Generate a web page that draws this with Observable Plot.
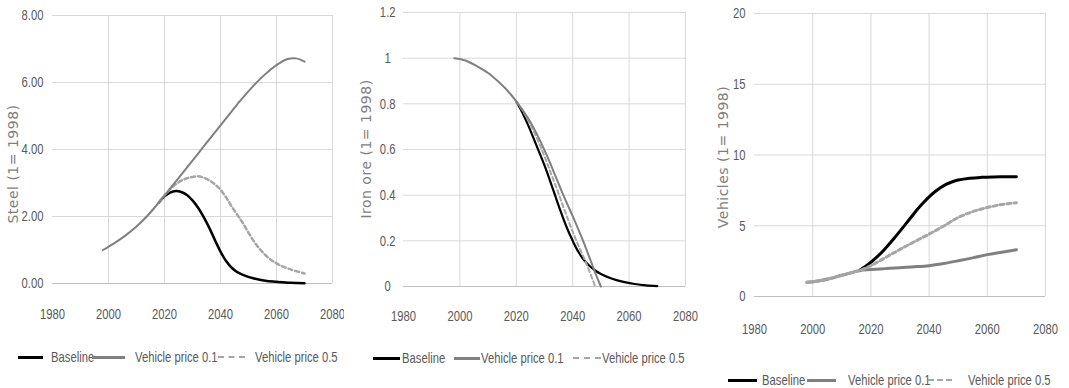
<!DOCTYPE html>
<html><head><meta charset="utf-8">
<script src="https://cdn.jsdelivr.net/npm/d3@7"></script>
<script src="https://cdn.jsdelivr.net/npm/@observablehq/plot@0.6"></script>
<style>
body{margin:0;background:#fff;width:1069px;height:388px;overflow:hidden;position:relative;font-family:"Liberation Sans",Arial,sans-serif;}
.panel{position:absolute;top:0;}
.ylab{position:absolute;font-family:"DejaVu Sans",sans-serif;font-size:14px;letter-spacing:0.5px;color:#7f7f7f;transform:translate(-50%,-50%) rotate(-90deg);white-space:nowrap;}
.legtxt{position:absolute;font-size:15px;line-height:16px;color:#595959;white-space:nowrap;transform:scaleX(0.75);transform-origin:0 50%;}
.sw{position:absolute;height:0;}
</style>
</head><body>
<script>
// ---------- data ----------
const xTicks = [1980, 2000, 2020, 2040, 2060, 2080];
const xGrid = [2000, 2020, 2040, 2060, 2080];
const seriesNames = ["Baseline", "Vehicle price 0.1", "Vehicle price 0.5"];

// Panel 1: Steel
const steelYTicks = [0, 2, 4, 6, 8];
const steelVP01Years = [1998,2002,2006,2010,2014,2018,2020,2022,2024,2026,2028,2030,2032,2034,2036,2038,2040,2042,2044,2046,2048,2052,2056,2060,2064,2067,2070];
const steelVP01 = [1.0,1.2,1.43,1.7,2.03,2.42,2.62,2.83,3.04,3.25,3.46,3.67,3.88,4.09,4.3,4.51,4.72,4.93,5.14,5.35,5.55,5.92,6.25,6.52,6.7,6.72,6.62];
const steelBaseYears = [2018,2020,2022,2024,2026,2028,2030,2032,2034,2036,2038,2040,2042,2044,2046,2048,2052,2056,2060,2065,2070];
const steelBaseline = [2.42,2.6,2.71,2.76,2.73,2.64,2.48,2.26,1.98,1.66,1.3,0.95,0.67,0.47,0.34,0.26,0.15,0.08,0.05,0.02,0.01];
const steelVP05Years = [2018,2020,2022,2024,2026,2028,2030,2032,2034,2036,2038,2040,2042,2044,2046,2048,2052,2056,2060,2065,2070];
const steelVP05 = [2.42,2.63,2.82,2.96,3.07,3.14,3.18,3.2,3.16,3.08,2.96,2.8,2.57,2.3,2.05,1.8,1.25,0.85,0.6,0.42,0.3];

// Panel 2: Iron ore
const oreYTicks = [0, 0.2, 0.4, 0.6, 0.8, 1, 1.2];
const oreVP01Years = [1998,2002,2006,2010,2014,2018,2020,2022,2024,2026,2028,2030,2032,2034,2036,2038,2040,2042,2044,2046,2048,2050];
const oreVP01 = [1.0,0.99,0.965,0.935,0.893,0.842,0.81,0.777,0.74,0.698,0.65,0.597,0.54,0.48,0.42,0.363,0.308,0.25,0.19,0.125,0.06,0];
const oreBaseYears = [2020,2022,2024,2026,2028,2030,2032,2034,2036,2038,2040,2042,2044,2046,2048,2050,2054,2058,2062,2066,2070];
const oreBaseline = [0.81,0.765,0.712,0.653,0.592,0.53,0.462,0.39,0.32,0.255,0.2,0.152,0.116,0.09,0.07,0.055,0.034,0.02,0.011,0.005,0.002];
const oreVP05Years = [2020,2022,2024,2026,2028,2030,2032,2034,2036,2038,2040,2042,2044,2046,2048];
const oreVP05 = [0.81,0.775,0.733,0.685,0.63,0.57,0.505,0.44,0.372,0.305,0.24,0.18,0.125,0.064,0];

// Panel 3: Vehicles
const vehYTicks = [0, 5, 10, 15, 20];
const vehYears = [1998,2002,2006,2010,2014,2016,2020,2025,2030,2035,2040,2045,2050,2055,2060,2065,2070];
const vehVP01 = [1.0,1.1,1.27,1.5,1.72,1.83,1.9,1.97,2.04,2.1,2.18,2.33,2.52,2.73,2.96,3.13,3.3];
const vehVP05 = [1.0,1.1,1.27,1.5,1.72,1.83,2.18,2.75,3.33,3.88,4.41,4.98,5.58,6.0,6.29,6.5,6.63];
const vehBaseYears = [2016,2018,2020,2022,2024,2026,2028,2030,2032,2034,2036,2038,2040,2042,2044,2046,2048,2050,2054,2058,2062,2066,2070];
const vehBaseline = [1.83,2.1,2.42,2.78,3.18,3.64,4.12,4.62,5.13,5.65,6.16,6.62,7.04,7.4,7.7,7.94,8.11,8.23,8.36,8.42,8.45,8.46,8.47];

// ---------- styles ----------
const fontStack = '"Liberation Sans",Arial,sans-serif';
const squeeze = 0.75;
const seriesStyle = {
  "Baseline": {stroke: "#000000"},
  "Vehicle price 0.1": {stroke: "#808080"},
  "Vehicle price 0.5": {stroke: "#a6a6a6", strokeDasharray: "4,3"}
};

function rows(years, values) { return years.map((y, i) => ({year: y, v: values[i]})); }

function makePanel(cfg) {
  const div = document.createElement("div");
  div.className = "panel";
  div.style.left = cfg.left + "px";
  const marks = [
    Plot.ruleX(xGrid, {stroke: "#d9d9d9", strokeWidth: 1}),
    Plot.ruleY(cfg.yTicks.filter(t => t > 0), {stroke: "#d9d9d9", strokeWidth: 1}),
    Plot.ruleY([0], {stroke: "#bfbfbf", strokeWidth: 1.2})
  ];
  for (const s of cfg.series) {
    const st = seriesStyle[s.name];
    marks.push(Plot.line(rows(s.years, s.values), {
      x: "year", y: "v", curve: "catmull-rom",
      stroke: st.stroke, strokeWidth: s.width,
      strokeDasharray: st.strokeDasharray
    }));
  }
  const chart = Plot.plot({
    width: cfg.width, height: cfg.height,
    marginTop: cfg.mt, marginBottom: cfg.mb, marginLeft: cfg.ml, marginRight: cfg.mr,
    style: {fontFamily: fontStack, fontSize: "15px", color: "#595959", background: "transparent", overflow: cfg.overflow || "visible"},
    x: {domain: [1980, 2080], ticks: xTicks, tickFormat: d => String(d), tickSize: 0, tickPadding: cfg.xPad, label: null},
    y: {domain: cfg.yDomain, ticks: cfg.yTicks, tickFormat: cfg.yFmt, tickSize: 0, tickPadding: cfg.yPad, label: null},
    marks
  });
  div.appendChild(chart);
  document.body.appendChild(div);

  // condense tick text (narrow face look)
  const texts = Array.from(chart.querySelectorAll("text"));
  const lens = texts.map(t => t.getComputedTextLength());
  texts.forEach((t, i) => {
    if (lens[i] > 0) {
      t.setAttribute("textLength", (lens[i] * squeeze).toFixed(2));
      t.setAttribute("lengthAdjust", "spacingAndGlyphs");
    }
  });
  if (cfg.yCenter) {
    const yt = Array.from(chart.querySelectorAll('[aria-label^="y-axis"] text'));
    const wq = Math.max(...yt.map(t => +t.getAttribute("textLength") || 0));
    yt.forEach(t => { t.setAttribute("text-anchor", "middle"); t.setAttribute("dx", (-wq / 2).toFixed(2)); });
  }

  const lab = document.createElement("div");
  lab.className = "ylab";
  lab.textContent = cfg.yLabel;
  lab.style.left = cfg.labX + "px";
  lab.style.top = cfg.labY + "px";
  document.body.appendChild(lab);

  // legend
  const lg = cfg.legend;
  seriesNames.forEach((name, i) => {
    const st = seriesStyle[name];
    const sw = document.createElement("div");
    sw.className = "sw";
    const [x1, x2] = lg.sw[i];
    sw.style.left = x1 + "px";
    sw.style.width = (x2 - x1) + "px";
    sw.style.top = (lg.cy - lg.th[i] / 2) + "px";
    sw.style.borderTop = lg.th[i] + "px " + (st.strokeDasharray ? "dashed " : "solid ") + st.stroke;
    document.body.appendChild(sw);
    const t = document.createElement("div");
    t.className = "legtxt";
    t.textContent = name;
    t.style.left = lg.tx[i] + "px";
    t.style.top = (lg.cy - 8) + "px";
    document.body.appendChild(t);
  });
}

makePanel({
  left: 0, width: 344, height: 330, mt: 15, mb: 47, ml: 52, mr: 12, overflow: "hidden",
  yDomain: [0, 8], yTicks: steelYTicks, yFmt: d3.format(".2f"), xPad: 25, yPad: 9,
  yLabel: "Steel (1= 1998)", labX: 13, labY: 164,
  series: [
    {name: "Baseline", years: steelBaseYears, values: steelBaseline, width: 2.5},
    {name: "Vehicle price 0.5", years: steelVP05Years, values: steelVP05, width: 2.5},
    {name: "Vehicle price 0.1", years: steelVP01Years, values: steelVP01, width: 2}
  ],
  legend: {cy: 357, sw: [[18, 43], [92, 125], [218, 245]], tx: [51, 135, 255], th: [3, 3, 2]}
});

makePanel({
  left: 355, width: 355, height: 330, mt: 12, mb: 44, ml: 48, mr: 25, yCenter: true,
  yDomain: [0, 1.2], yTicks: oreYTicks, yFmt: d => String(+d.toFixed(1)), xPad: 24, yPad: 8,
  yLabel: "Iron ore (1= 1998)", labX: 366, labY: 149,
  series: [
    {name: "Baseline", years: oreBaseYears, values: oreBaseline, width: 2.2},
    {name: "Vehicle price 0.5", years: oreVP05Years, values: oreVP05, width: 2},
    {name: "Vehicle price 0.1", years: oreVP01Years, values: oreVP01, width: 2}
  ],
  legend: {cy: 358, sw: [[373, 400], [454, 480], [573, 601]], tx: [402, 481, 602], th: [3, 3, 2]}
});

makePanel({
  left: 710, width: 359, height: 345, mt: 13, mb: 49, ml: 44, mr: 24,
  yDomain: [0, 20], yTicks: vehYTicks, yFmt: d => String(d), xPad: 27, yPad: 9,
  yLabel: "Vehicles (1= 1998)", labX: 723, labY: 157,
  series: [
    {name: "Baseline", years: vehBaseYears, values: vehBaseline, width: 3},
    {name: "Vehicle price 0.1", years: vehYears, values: vehVP01, width: 3},
    {name: "Vehicle price 0.5", years: vehYears, values: vehVP05, width: 3}
  ],
  legend: {cy: 380, sw: [[728, 757], [807, 836], [928, 952]], tx: [762, 848, 968], th: [3, 3, 2]}
});
</script>
</body></html>
